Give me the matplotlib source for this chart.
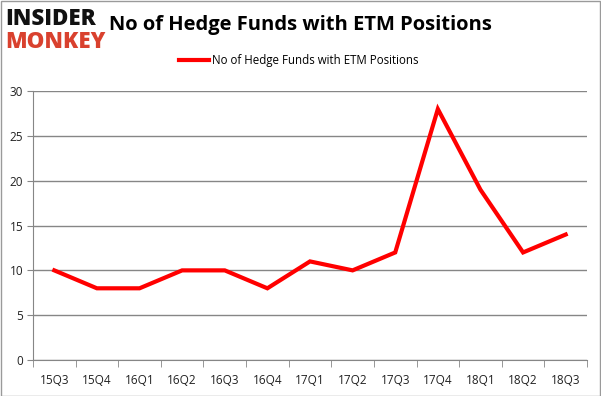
import numpy as np
import matplotlib.pyplot as plt
from matplotlib.ticker import FixedLocator

plt.rcParams['font.family'] = ['Open Sans', 'DejaVu Sans']

quarters = ['15Q3', '15Q4', '16Q1', '16Q2', '16Q3', '16Q4', '17Q1',
            '17Q2', '17Q3', '17Q4', '18Q1', '18Q2', '18Q3']
funds = [10, 8, 8, 10, 10, 8, 11, 10, 12, 28, 19, 12, 14]
yticks = [0, 5, 10, 15, 20, 25, 30]

fig = plt.figure(figsize=(6.01, 3.96), dpi=100)
ax = fig.add_axes([0.0549, 0.0909, 0.9218, 0.679])

x = np.arange(len(quarters))
ax.plot(x, funds, color='#ff0000', linewidth=3, solid_joinstyle='miter',
        label='No of Hedge Funds with ETM Positions', zorder=3)

ax.set_xlim(-0.5, len(quarters) - 0.5)
ax.set_ylim(0, 30)
ax.set_yticks(yticks)
ax.set_xticks(x)
ax.set_xticklabels(quarters)
ax.xaxis.set_minor_locator(FixedLocator(np.arange(-0.5, len(quarters), 1)))
ax.tick_params(axis='x', which='major', length=0, pad=10, labelsize=8.5, colors='#222222')
ax.tick_params(axis='x', which='minor', length=5, color='#868686')
ax.tick_params(axis='y', length=4, color='#868686', labelsize=8.5, colors='#222222', pad=3)
ax.grid(axis='y', color='#868686', linewidth=1)
ax.set_axisbelow(True)
for s in ['top', 'right']:
    ax.spines[s].set_visible(False)
for s in ['left', 'bottom']:
    ax.spines[s].set_color('#868686')

fig.text(0.5, 0.937, 'No of Hedge Funds with ETM Positions', ha='center', va='center',
         fontsize=14.5, fontweight='bold')
fig.legend(*ax.get_legend_handles_labels(), loc='center', bbox_to_anchor=(0.4975, 0.846),
           frameon=False, fontsize=8.3, handlelength=2.6, handletextpad=0.3)

# logo
fig.text(0.008, 0.952, 'INSIDER', fontsize=16, fontweight='heavy', color='#111111',
         va='center', ha='left')
fig.text(0.008, 0.895, 'MONKEY', fontsize=16, fontweight='heavy', color='#d9412e',
         va='center', ha='left')

# outer border
fig.patches.append(plt.Rectangle((0.001, 0.001), 0.997, 0.996, transform=fig.transFigure,
                                 fill=False, edgecolor='#9a9a9a', linewidth=1))

fig.savefig('out.png', dpi=100)
